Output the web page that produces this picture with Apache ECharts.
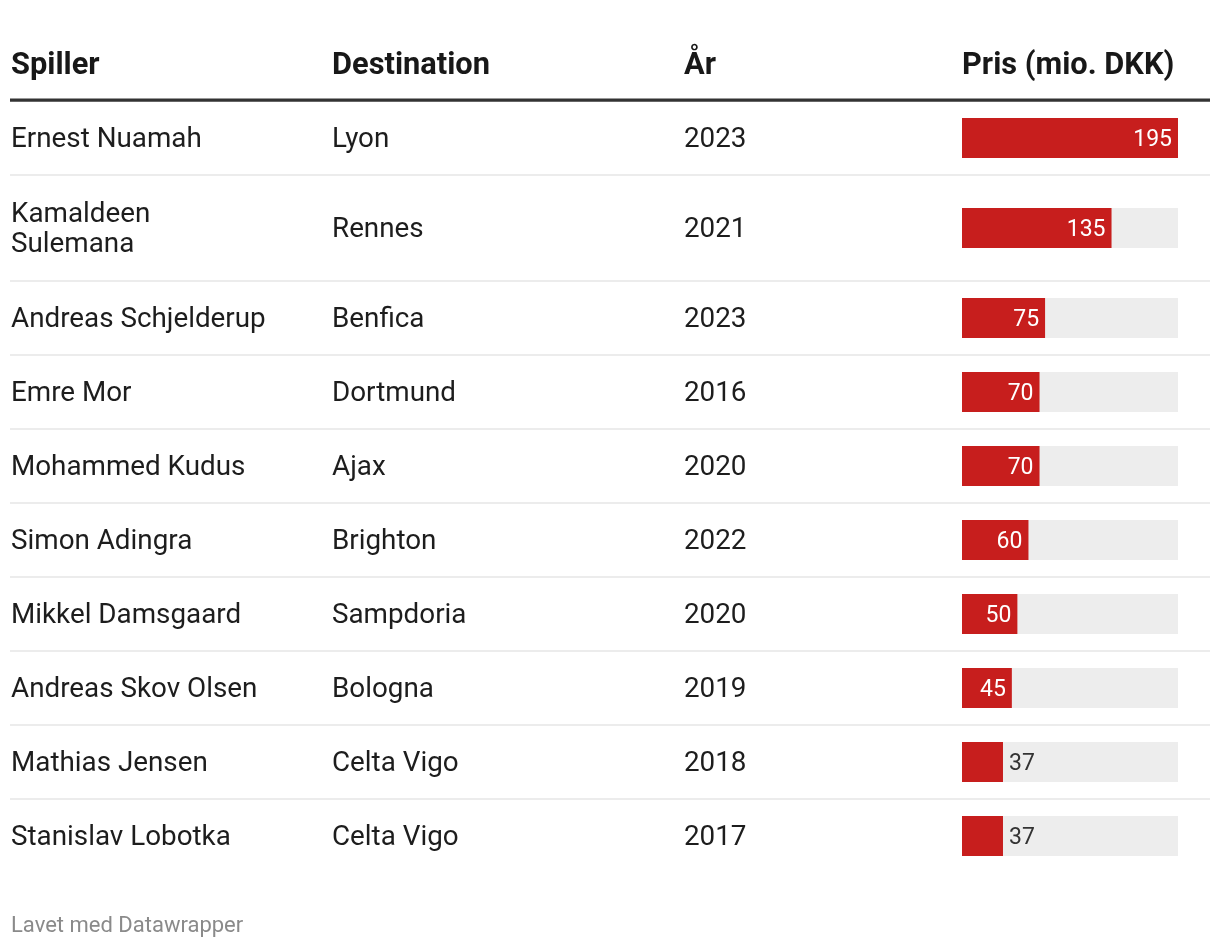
<!DOCTYPE html>
<html>
<head>
<meta charset="utf-8">
<script src="https://cdn.jsdelivr.net/npm/echarts@6/dist/echarts.min.js"></script>
<style>
html,body{margin:0;padding:0;background:#fff;}
#chart{width:1220px;height:948px;}
</style>
</head>
<body>
<div id="chart"></div>
<script>
// ---- data ----
const headers = ['Spiller', 'Destination', 'År', 'Pris (mio. DKK)'];
const players = ['Ernest Nuamah', 'Kamaldeen Sulemana', 'Andreas Schjelderup', 'Emre Mor', 'Mohammed Kudus', 'Simon Adingra', 'Mikkel Damsgaard', 'Andreas Skov Olsen', 'Mathias Jensen', 'Stanislav Lobotka'];
const destinations = ['Lyon', 'Rennes', 'Benfica', 'Dortmund', 'Ajax', 'Brighton', 'Sampdoria', 'Bologna', 'Celta Vigo', 'Celta Vigo'];
const years = ['2023', '2021', '2023', '2016', '2020', '2022', '2020', '2019', '2018', '2017'];
const prices = [195, 135, 75, 70, 70, 60, 50, 45, 37, 37];
const footer = 'Lavet med Datawrapper';

(function () {
// ---- layout / style ----
const FONT = 'Roboto, "Noto Sans", sans-serif';
const colX = [11, 332, 684, 962];
const barWidthPx = 216;
const nameColWidth = 262;
const bodySize = 27.8, headSize = 30.8, labelSize = 23, footSize = 22;
const rowTop0 = 101, rowBase = 74, lineExtra = 30;
const red = '#c71e1d', bg = '#ededed', textCol = '#1d1d1d';

const ctx = document.createElement('canvas').getContext('2d');
ctx.font = bodySize + 'px ' + FONT;
function wrap(s, w) {
  const words = s.split(' ');
  const lines = [];
  let cur = '';
  words.forEach(wd => {
    const t = cur ? cur + ' ' + wd : wd;
    if (cur && ctx.measureText(t).width > w) { lines.push(cur); cur = wd; }
    else cur = t;
  });
  if (cur) lines.push(cur);
  return lines;
}

const chart = echarts.init(document.getElementById('chart'), null, {renderer: 'canvas'});
const graphic = [];
const grid = [], xAxis = [], yAxis = [], series = [];
const maxPrice = Math.max(...prices);

function txt(x, y, s, font, fill) {
  return {type: 'text', x: x, y: y, silent: true,
    style: {text: s, font: font, fill: fill, textVerticalAlign: 'middle', textAlign: 'left', lineHeight: 30}};
}

// header
headers.forEach((h, i) => {
  graphic.push(txt(colX[i], 66.5, h, 'bold ' + headSize + 'px ' + FONT, '#181818'));
});
graphic.push({type: 'rect', silent: true, shape: {x: 10, y: 98.5, width: 1200, height: 3.2}, style: {fill: '#333333'}});

let rowTop = rowTop0;
players.forEach((p, i) => {
  const lines = wrap(p, nameColWidth);
  const h = rowBase + (lines.length - 1) * (lineExtra + 2);
  const cy = rowTop + h / 2;
  const cells = [lines.join('\n'), destinations[i], years[i]];
  cells.forEach((c, j) => {
    graphic.push(txt(colX[j], cy + 2, c, bodySize + 'px ' + FONT, textCol));
  });
  if (i < players.length - 1) {
    graphic.push({type: 'rect', silent: true, shape: {x: 10, y: rowTop + h - 1, width: 1200, height: 2}, style: {fill: '#ececec'}});
  }
  grid.push({left: colX[3], width: barWidthPx, top: cy - 20, height: 40, containLabel: false});
  xAxis.push({gridIndex: i, type: 'value', min: 0, max: maxPrice, show: false});
  yAxis.push({gridIndex: i, type: 'category', data: [p], show: false});
  const inside = prices[i] >= 40;
  series.push({
    type: 'bar', xAxisIndex: i, yAxisIndex: i, barWidth: 40,
    showBackground: true, backgroundStyle: {color: bg},
    itemStyle: {color: red},
    silent: true, animation: false,
    label: {
      show: true,
      position: inside ? 'insideRight' : 'right',
      distance: 6,
      offset: [0, 2],
      color: inside ? '#ffffff' : '#333333',
      fontSize: labelSize, fontFamily: FONT
    },
    data: [prices[i]]
  });
  rowTop += h;
});

graphic.push(txt(11, 926, footer, footSize + 'px ' + FONT, '#8a8a8a'));

chart.setOption({
  animation: false,
  grid: grid, xAxis: xAxis, yAxis: yAxis, series: series,
  graphic: graphic
});
})();
</script>
</body>
</html>
